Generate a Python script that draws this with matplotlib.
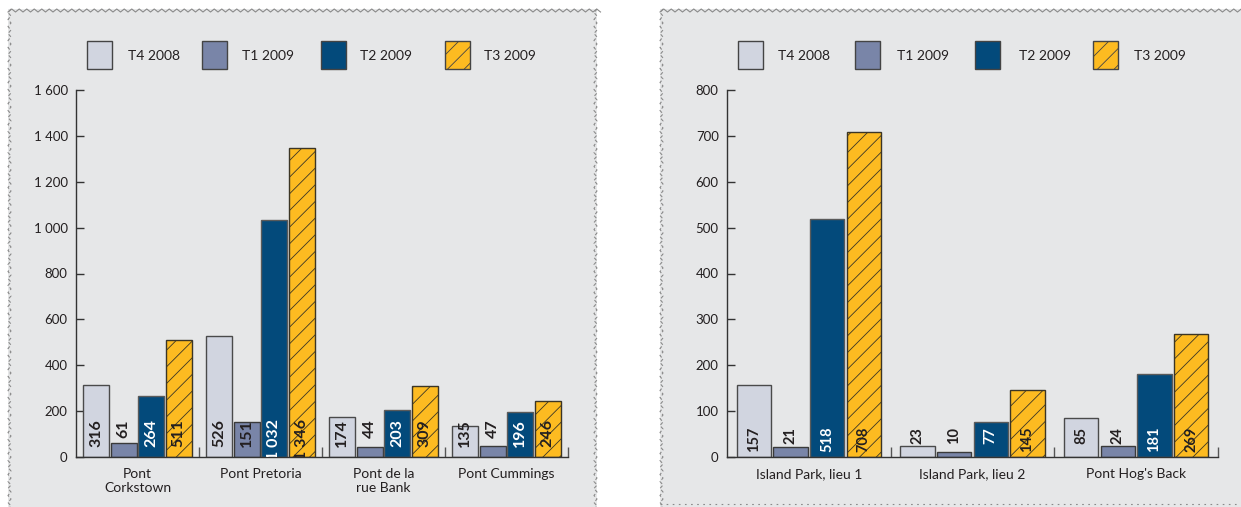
import matplotlib
matplotlib.use("Agg")
import matplotlib.pyplot as plt
import numpy as np
from matplotlib.patches import Rectangle
from matplotlib.lines import Line2D
from matplotlib.ticker import FuncFormatter, FixedLocator
from matplotlib.transforms import offset_copy

# ---- data -------------------------------------------------------------
series = ["T4 2008", "T1 2009", "T2 2009", "T3 2009"]

bridges_a = ["Pont\nCorkstown", "Pont Pretoria", "Pont de la\nrue Bank", "Pont Cummings"]
t4_2008_a = [316, 526, 174, 135]
t1_2009_a = [61, 151, 44, 47]
t2_2009_a = [264, 1032, 203, 196]
t3_2009_a = [511, 1346, 309, 246]
yticks_a = [0, 200, 400, 600, 800, 1000, 1200, 1400, 1600]

sites_b = ["Island Park, lieu 1", "Island Park, lieu 2", "Pont Hog's Back"]
t4_2008_b = [157, 23, 85]
t1_2009_b = [21, 10, 24]
t2_2009_b = [518, 77, 181]
t3_2009_b = [708, 145, 269]
yticks_b = [0, 100, 200, 300, 400, 500, 600, 700, 800]

# ---- style ------------------------------------------------------------
W, H = 1241, 507
FONT = ["Lato", "DejaVu Sans"]
plt.rcParams["font.family"] = FONT
plt.rcParams["hatch.linewidth"] = 0.6
TXT = "#231f20"
PANEL = "#e6e7e8"
fills = ["#d1d5e0", "#7985a8", "#034a7b", "#fdbb21"]
edges = ["#4a4a4a", "#3a3a3a", "#5a5a5a", "#3b3526"]
hatches = [None, None, None, "//"]
label_colors = [TXT, TXT, "white", TXT]

fig = plt.figure(figsize=(W / 100, H / 100), dpi=100)


def fx(px):
    return px / W


def fy(py):
    return 1 - py / H


def zigzag_h(x0, x1, y, period=7.5, amp=3.0):
    xs = np.arange(x0, x1 + period / 2, period / 2)
    ys = [y + (amp if i % 2 == 0 else 0) for i in range(len(xs))]
    return [fx(v) for v in xs], [fy(v) for v in ys]


def zigzag_v(x, y0, y1, period=7.0, amp=3.0):
    ys = np.arange(y0, y1 + period / 2, period / 2)
    xs = [x + (amp if i % 2 == 0 else 0) for i in range(len(ys))]
    return [fx(v) for v in xs], [fy(v) for v in ys]


def panel(x0, x1, y0, y1, bottom_dotted=False):
    fig.add_artist(Rectangle((fx(x0), fy(y1)), fx(x1) - fx(x0), fy(y0) - fy(y1),
                             transform=fig.transFigure, facecolor=PANEL,
                             edgecolor="none", zorder=0))
    kw = dict(transform=fig.transFigure, color="#8a8a8a", lw=0.8, zorder=1)
    xs, ys = zigzag_h(x0, x1, y0)
    fig.add_artist(Line2D(xs, ys, **kw))
    xs, ys = zigzag_v(x0, y0, y1)
    fig.add_artist(Line2D(xs, ys, ls=(0, (3, 2)), **kw))
    if x1 < W:
        xs, ys = zigzag_v(x1 - 3, y0, y1)
        fig.add_artist(Line2D(xs, ys, ls=(0, (3, 2)), **kw))
    if bottom_dotted:
        fig.add_artist(Line2D([fx(x0), fx(x1)], [fy(y1 - 3), fy(y1 - 3)],
                              ls=(0, (1.5, 4)), **kw))


panel(8, 597, 9, 512)
panel(660, 1245, 9, 507, bottom_dotted=True)


def thousands(v, _=None):
    return f"{int(v):,}".replace(",", " ")


def draw(ax_rect, cats, data, yticks, ymax, label_size, label_top_px,
         legend_patch_x, legend_text_x):
    ax = fig.add_axes(ax_rect)
    ax.patch.set_alpha(0)
    n = len(cats)
    x = np.arange(n)
    step, width = 0.224, 0.21
    tr = offset_copy(ax.transData, fig=fig, x=0, y=label_top_px, units="dots")
    for i, vals in enumerate(data):
        pos = x + (i - 1.5) * step
        ax.bar(pos, vals, width=width, color=fills[i], edgecolor=edges[i],
               linewidth=1.0, hatch=hatches[i], zorder=2)
        for p, v in zip(pos, vals):
            t = ax.text(p, 0, thousands(v), transform=tr, rotation=90,
                        ha="center", va="top", fontsize=label_size,
                        fontweight="bold", color=label_colors[i], zorder=3)
            t.set_clip_box(ax.bbox)
            t.set_clip_on(True)
    ax.set_xlim(-0.5, n - 0.5)
    ax.set_ylim(0, ymax)
    ax.set_yticks(yticks)
    ax.yaxis.set_major_formatter(FuncFormatter(thousands))
    ax.set_xticks(x)
    ax.set_xticklabels(cats)
    ax.xaxis.set_minor_locator(FixedLocator(np.arange(n) + 0.5))
    for s in ("top", "right"):
        ax.spines[s].set_visible(False)
    for s in ("left", "bottom"):
        ax.spines[s].set_color("#333333")
        ax.spines[s].set_linewidth(1.0)
    ax.tick_params(axis="y", direction="in", length=6, width=1.0, color="#333333",
                   labelsize=9.5, labelcolor=TXT, pad=6)
    ax.tick_params(axis="x", which="major", length=0, labelsize=10,
                   labelcolor=TXT, pad=8)
    ax.tick_params(axis="x", which="minor", direction="in", length=7, width=1.0,
                   color="#555555")
    # legend row
    for i, name in enumerate(series):
        fig.add_artist(Rectangle((fx(legend_patch_x[i]), fy(69)),
                                 fx(25), fy(41) - fy(69),
                                 transform=fig.transFigure, facecolor=fills[i],
                                 edgecolor="#444444", lw=1.0, hatch=hatches[i]))
        fig.text(fx(legend_text_x[i]), fy(56), name, fontsize=10, color=TXT,
                 ha="left", va="center")
    return ax


axis_bottom, axis_top = 457, 90
bottom = fy(axis_bottom)
height = (axis_bottom - axis_top) / H

draw([fx(76), bottom, fx(568) - fx(76), height], bridges_a,
     [t4_2008_a, t1_2009_a, t2_2009_a, t3_2009_a], yticks_a, 1600, 11.5, 38,
     [87, 202, 321, 445], [128, 242, 360, 484])

draw([fx(727), bottom, fx(1218) - fx(727), height], sites_b,
     [t4_2008_b, t1_2009_b, t2_2009_b, t3_2009_b], yticks_b, 800, 10.5, 30,
     [738, 855, 975, 1093], [778, 897, 1019, 1134])

fig.savefig("out.png", dpi=100)
